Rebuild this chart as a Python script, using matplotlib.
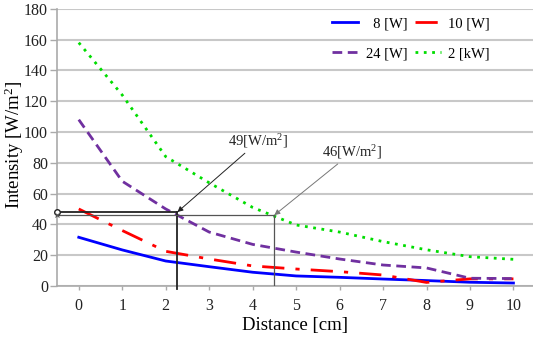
import matplotlib.pyplot as plt
import numpy as np

plt.rcParams['font.family'] = ['Liberation Serif', 'DejaVu Serif']
plt.rcParams['mathtext.fontset'] = 'custom'
plt.rcParams['mathtext.rm'] = 'Liberation Serif'
plt.rcParams['mathtext.it'] = 'Liberation Serif:italic'

# Data
distance = [0, 1, 2, 3, 4, 5, 6, 7, 8, 9, 10]
p8w = [31.6, 23.4, 16.2, 12.5, 8.9, 6.5, 5.6, 4.5, 3.5, 2.4, 1.9]
p10w = [50, 36, 22.5, 17.5, 13, 11, 9.3, 7.1, 2.3, 4.6, 4.6]
p24w = [108, 68, 50, 35, 27, 22, 17.5, 13.6, 11.7, 5, 4.8]
p2kw = [158, 124, 84, 67, 51, 39.6, 35, 28.8, 23.5, 19, 17.3]
xticks = list(range(0, 11))
yticks = list(range(0, 181, 20))

mark1 = (2.27, 48)
mark2 = (4.5, 46)

fig = plt.figure(figsize=(5.33, 3.38), dpi=100)
ax = fig.add_axes([0.107, 0.154, 0.893, 0.82])

l1, = ax.plot(distance, p8w, color='#0000ff', lw=2, label='  8 [W]')
l2, = ax.plot(distance, p10w, color='#ff0000', lw=2, ls=(0, (8, 4, 1.5, 4)), label='10 [W]')
l3, = ax.plot(distance, p24w, color='#7030a0', lw=2, ls=(0, (3.5, 2)), label='24 [W]')
l4, = ax.plot(distance, p2kw, color='#00dd00', lw=2, ls=(0, (1, 2)), label='2 [kW]')

# guide lines
ax.plot([-0.5, mark1[0]], [mark1[1], mark1[1]], color='#222222', lw=1.3, zorder=5)
ax.plot([mark1[0], mark1[0]], [mark1[1], -2], color='#222222', lw=1.3, zorder=5, clip_on=False)
ax.plot([-0.5], [mark1[1]], marker='o', ms=4, mfc='white', mec='#222222', mew=1, clip_on=False, zorder=6)
ax.plot([-0.5, mark2[0]], [mark2[1], mark2[1]], color='#555555', lw=0.9, zorder=5)
ax.plot([mark2[0], mark2[0]], [mark2[1], 0], color='#555555', lw=0.9, zorder=5)
ax.plot([-0.5], [mark2[1]], marker='x', ms=3, mec='#555555', mew=0.8, clip_on=False, zorder=6)

ax.annotate('49[W/m$^2$]', xy=mark1, xytext=(3.44, 88),
            fontsize=10.5, color='#222222', va='bottom', ha='left',
            arrowprops=dict(arrowstyle='-|>', color='#222222', lw=0.7,
                            mutation_scale=8, shrinkA=0, shrinkB=0))
ax.annotate('46[W/m$^2$]', xy=mark2, xytext=(5.6, 81),
            fontsize=10.5, color='#222222', va='bottom', ha='left',
            arrowprops=dict(arrowstyle='-|>', color='#777777', lw=0.7,
                            mutation_scale=8, shrinkA=0, shrinkB=0))

ax.set_xlim(-0.5, 10.45)
ax.set_ylim(0, 180)
ax.set_xticks(xticks)
ax.set_yticks(yticks)
ax.tick_params(axis='both', labelsize=11.5, colors='#222222', width=1)
ax.tick_params(axis='x', color='#aaaaaa', length=3, pad=6)
ax.tick_params(axis='y', color='#aaaaaa', length=5, pad=1.5)
ax.yaxis.grid(True, color='#c8c8c8', lw=1.5)
ax.set_axisbelow(True)
for s in ['top', 'right']:
    ax.spines[s].set_visible(False)
for s in ['left', 'bottom']:
    ax.spines[s].set_color('#aaaaaa')
    ax.spines[s].set_linewidth(1.2)

ax.set_xlabel('Distance [cm]', fontsize=13.5, labelpad=2)
ax.set_ylabel('Intensity [W/m$^2$]', fontsize=13.5)
ax.yaxis.set_label_coords(-0.066, 0.51)

ax.legend(handles=[l1, l3, l2, l4], ncol=2, frameon=False, fontsize=10.5,
          loc='upper right', bbox_to_anchor=(0.919, 0.95),
          bbox_transform=fig.transFigure, borderaxespad=0, borderpad=0,
          handlelength=1.8, handletextpad=0.5, columnspacing=0.5,
          labelspacing=1.15)

fig.savefig('out.png', dpi=100)
